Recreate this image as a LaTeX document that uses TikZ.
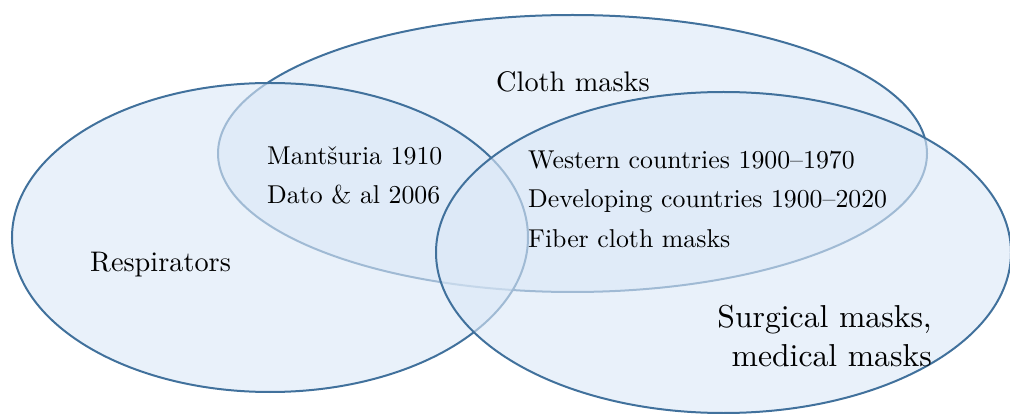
\documentclass[tikz,border=0pt]{standalone}
\usepackage{fontspec}
% one design size of Latin Modern at every size, so large text keeps its width
\setmainfont{lmroman10-regular.otf}
\begin{document}
\begin{tikzpicture}[x=1pt,y=-1pt,
  setfill/.style={fill={rgb,255:red,219;green,232;blue,247},fill opacity=0.62,
                  draw={rgb,255:red,65;green,113;blue,156},line width=2pt},
  biglabel/.style={inner sep=0pt,font=\fontsize{28.3}{34}\selectfont},
  largelabel/.style={inner sep=0pt,font=\fontsize{31.7}{38}\selectfont,anchor=base east},
  smalllabel/.style={inner sep=0pt,font=\fontsize{25.8}{31}\selectfont,anchor=base west}]
\useasboundingbox (0,0) rectangle (1010,414);
% the three sets: cloth masks, respirators, surgical masks
\draw[setfill] (572.5,153.5) ellipse [x radius=354.5, y radius=138.5];
\draw[setfill] (270,237.5) ellipse [x radius=258, y radius=154.5];
\draw[setfill] (723.5,252.5) ellipse [x radius=287.5, y radius=160.5];
% set names
\node[biglabel,anchor=base west] (cloth) at (496,92) {Cloth masks};
\node[biglabel,anchor=base west] (resp) at (90,272) {Respirators};
\node[largelabel] (surg1) at (932,327) {Surgical masks,};
\node[largelabel] (surg2) at (932,366) {medical masks};
% contents of the intersections
\node[smalllabel] (mant) at (267,165) {Mantšuria 1910};
\node[smalllabel] (dato) at (267,204) {Dato \& al 2006};
\node[smalllabel] (west) at (528,169) {Western countries 1900--1970};
\node[smalllabel] (devel) at (528,208) {Developing countries 1900--2020};
\node[smalllabel] (fiber) at (528,248) {Fiber cloth masks};
\end{tikzpicture}
\end{document}
